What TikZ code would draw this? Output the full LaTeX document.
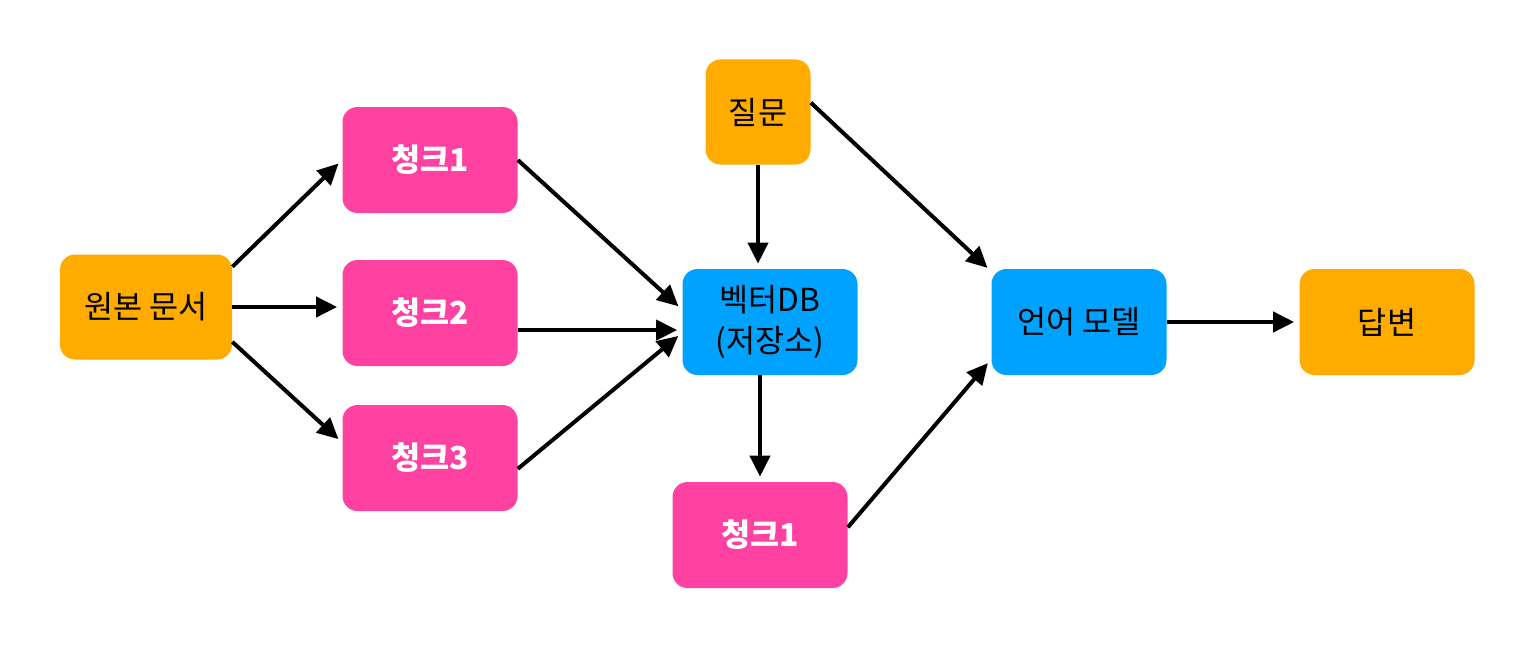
\documentclass[tikz,border=0pt]{standalone}
\usepackage{fontspec}
\setmainfont{Noto Sans CJK KR}
\usetikzlibrary{arrows.meta}

\definecolor{boxorange}{RGB}{255,171,0}
\definecolor{boxpink}{RGB}{255,66,161}
\definecolor{boxblue}{RGB}{0,162,255}

\begin{document}
\begin{tikzpicture}[
    node distance=2cm,
    box/.style={rectangle, rounded corners=0.3cm, inner sep=0pt,
                minimum width=3.5cm, minimum height=2.12cm, align=center,
                font=\fontsize{18}{23}\selectfont},
    srcbox/.style={box, fill=boxorange},
    chunkbox/.style={box, fill=boxpink, text=white, font=\fontsize{18}{23}\selectfont\bfseries},
    storebox/.style={box, fill=boxblue},
    arrow/.style={->, >={Triangle[length=0.42cm, width=0.4cm]}, line width=0.08cm, shorten >=0.1cm}
]
\useasboundingbox (0,0) rectangle (30.64,-12.96);

\node (doc) [srcbox, minimum width=3.44cm, minimum height=2.1cm] at (2.92,-6.14) {원본 문서};
\node (c2) [chunkbox, right of=doc, xshift=3.68cm, yshift=-0.12cm] {청크2};
\node (c1) [chunkbox, above of=c2, yshift=1.06cm] {청크1};
\node (c3) [chunkbox, below of=c2, yshift=-0.9cm] {청크3};
\node (db) [storebox, right of=c2, xshift=4.8cm, yshift=-0.18cm] {벡터DB\\(저장소)};
\node (qs) [srcbox, above of=db, xshift=-0.24cm, yshift=2.2cm, minimum width=2.1cm, minimum height=2.1cm] {질문};
\node (hit) [chunkbox, below of=db, xshift=-0.2cm, yshift=-2.26cm] {청크1};
\node (lm) [storebox, right of=db, xshift=4.18cm] {언어 모델};
\node (ans) [srcbox, right of=lm, xshift=4.16cm] {답변};

\draw [arrow] (doc.25) -- (c1.west);
\draw [arrow] (doc.east) -- (doc.east -| c2.west);
\draw [arrow] (doc.-22) -- (c3.170);

\draw [arrow] (c1.east) -- (db.172);
\draw [arrow] (c2.-11) -- (c2.-11 -| db.west);
\draw [arrow] (c3.-7) -- (db.187);

\draw [arrow] (qs.south) -- (qs.south |- db.north);
\draw [arrow] (db.south -| hit.north) -- (hit.north);

\draw [arrow] (qs.10) -- (lm.150);
\draw [arrow] (hit.5) -- (lm.-157);
\draw [arrow] (lm.east) -- (ans.west);

\end{tikzpicture}
\end{document}
